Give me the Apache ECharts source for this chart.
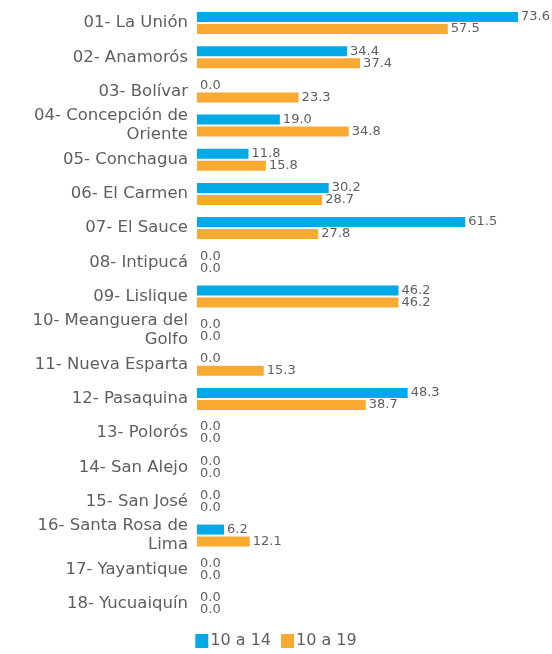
<!DOCTYPE html>
<html>
<head>
<meta charset="utf-8">
<script src="https://cdn.jsdelivr.net/npm/echarts@6/dist/echarts.min.js"></script>
<style>
  html, body { margin: 0; padding: 0; background: #fff; }
  #chart { width: 552px; height: 654px; }
</style>
</head>
<body>
<div id="chart"></div>
<script>
// Municipios (top to bottom)
const municipios = [
  '01- La Unión',
  '02- Anamorós',
  '03- Bolívar',
  '04- Concepción de\nOriente',
  '05- Conchagua',
  '06- El Carmen',
  '07- El Sauce',
  '08- Intipucá',
  '09- Lislique',
  '10- Meanguera del\nGolfo',
  '11- Nueva Esparta',
  '12- Pasaquina',
  '13- Polorós',
  '14- San Alejo',
  '15- San José',
  '16- Santa Rosa de\nLima',
  '17- Yayantique',
  '18- Yucuaiquín'
];

// Tasa por grupo de edad
const edad10a14 = [73.6, 34.4, 0.0, 19.0, 11.8, 30.2, 61.5, 0.0, 46.2, 0.0, 0.0, 48.3, 0.0, 0.0, 0.0, 6.2, 0.0, 0.0];
const edad10a19 = [57.5, 37.4, 23.3, 34.8, 15.8, 28.7, 27.8, 0.0, 46.2, 0.0, 15.3, 38.7, 0.0, 0.0, 0.0, 12.1, 0.0, 0.0];

const seriesNames = ['10 a 14', '10 a 19'];

const FONT = 'DejaVu Sans';
const TEXT = '#5e5e5e';

const chart = echarts.init(document.getElementById('chart'));

const valueLabel = {
  show: true,
  position: 'right',
  distance: 3,
  color: TEXT,
  fontFamily: FONT,
  fontSize: 13,
  formatter: p => p.value.toFixed(1)
};

chart.setOption({
  animation: false,
  textStyle: { fontFamily: FONT },
  grid: { left: 197, right: 34, top: 6, bottom: 33, containLabel: false },
  legend: {
    bottom: 0,
    left: 'center',
    itemWidth: 13,
    itemHeight: 14,
    itemGap: 10,
    icon: 'rect',
    textStyle: { color: TEXT, fontSize: 16, fontFamily: FONT, padding: [0, 0, 0, -3] },
    data: seriesNames
  },
  xAxis: {
    type: 'value',
    min: 0,
    max: 73.6,
    show: false
  },
  yAxis: {
    type: 'category',
    inverse: true,
    data: municipios,
    axisLine: { show: false },
    axisTick: { show: false },
    axisLabel: {
      color: TEXT,
      fontSize: 16.5,
      fontFamily: FONT,
      margin: 9,
      lineHeight: 19,
      align: 'right'
    }
  },
  series: [
    {
      name: seriesNames[0],
      type: 'bar',
      data: edad10a14,
      barWidth: 10,
      barGap: '20%',
      itemStyle: { color: '#01A9E6' },
      label: valueLabel
    },
    {
      name: seriesNames[1],
      type: 'bar',
      data: edad10a19,
      barWidth: 10,
      itemStyle: { color: '#F9AA32' },
      label: valueLabel
    }
  ]
});
</script>
</body>
</html>
